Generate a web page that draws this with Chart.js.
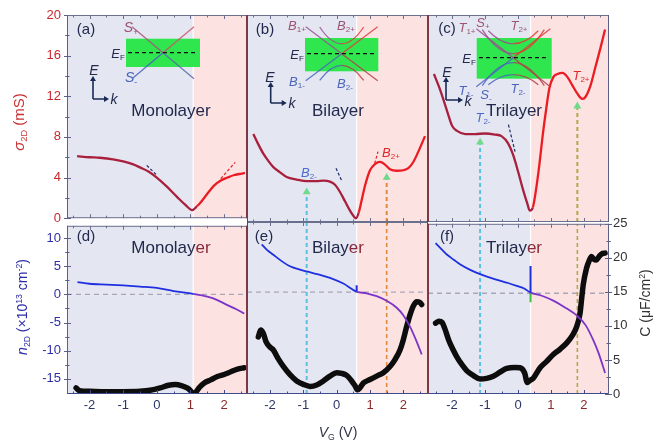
<!DOCTYPE html>
<html><head><meta charset="utf-8">
<script src="https://cdn.jsdelivr.net/npm/chart.js@4.4.1/dist/chart.umd.min.js"></script>
<style>
html,body{margin:0;padding:0;background:#fff;}
body{width:667px;height:443px;position:relative;overflow:hidden;font-family:'Liberation Sans',Arial,Helvetica,sans-serif;}
canvas.cv{position:absolute;}
.lb{position:absolute;white-space:nowrap;line-height:1;transform:translate(-50%,-50%);}
.lb sub{font-size:0.62em;vertical-align:-0.35em;line-height:0;}
.lb sup{font-size:0.62em;vertical-align:0.6em;line-height:0;}
.lb.rot{transform:translate(-50%,-50%) rotate(-90deg);}
svg#ins{position:absolute;left:0;top:0;}
</style></head>
<body>
<canvas id="ca" class="cv"></canvas>
<canvas id="cb" class="cv"></canvas>
<canvas id="cc" class="cv"></canvas>
<canvas id="cd" class="cv"></canvas>
<canvas id="ce" class="cv"></canvas>
<canvas id="cf" class="cv"></canvas>
<svg id="ins" width="667" height="443"></svg>
<div id="labels"></div>
<script>
// ---------------- data ----------------
const vTicks = [-2, -1, 0, 1, 2];
const vMinorTicks = [-2.5, -1.5, -0.5, 0.5, 1.5, 2.5];
const sigmaTicks = [0, 4, 8, 12, 16, 20];
const sigmaMinor = [2, 6, 10, 14, 18];
const nTicks = [-15, -10, -5, 0, 5, 10];
const nMinor = [-12.5, -7.5, -2.5, 2.5, 7.5];
const cTicks = [0, 5, 10, 15, 20, 25];
const cMinor = [2.5, 7.5, 12.5, 17.5, 22.5];

const layerNames = ['Monolayer', 'Bilayer', 'Trilayer'];
const neutralityV = [1.08, 0.6, 0.38];

const monoSigmaV = [-2.37,-2.0,-1.7,-1.3,-1.0,-0.7,-0.5,-0.25,0.0,0.3,0.6,0.85,1.05,1.2,1.3,1.5,1.7,1.9,2.1,2.3,2.45,2.62];
const monoSigma  = [6.1,6.0,5.95,5.8,5.6,5.3,5.0,4.6,4.0,3.1,2.1,1.3,0.8,1.2,1.55,2.4,3.2,3.7,4.0,4.25,4.35,4.45];

const biSigmaV = [-2.5,-2.35,-2.2,-2.05,-1.9,-1.7,-1.5,-1.2,-0.9,-0.6,-0.4,-0.2,-0.05,0.1,0.25,0.4,0.5,0.58,0.66,0.75,0.85,1.0,1.15,1.3,1.45,1.6,1.8,2.0,2.15,2.3,2.45,2.65];
const biSigma  = [8.5,7.5,6.6,5.9,5.3,4.8,4.35,4.1,3.95,3.95,4.0,3.9,3.6,2.9,2.0,1.1,0.6,0.35,0.9,2.1,3.5,5.0,5.6,5.8,5.55,5.1,4.95,5.0,5.2,5.8,6.8,8.3];

const triSigmaV = [-2.55,-2.4,-2.26,-2.1,-2.0,-1.85,-1.6,-1.3,-1.0,-0.7,-0.5,-0.3,-0.15,0.0,0.15,0.28,0.36,0.45,0.55,0.65,0.75,0.85,0.95,1.07,1.2,1.35,1.5,1.65,1.8,1.95,2.05,2.2,2.35,2.5,2.64];
const triSigma  = [14.3,13.1,11.8,10.2,9.3,8.8,8.5,8.5,8.55,8.45,8.3,7.6,6.5,4.9,3.15,1.8,1.1,1.4,3.2,5.6,8.4,10.8,12.9,14.0,14.3,14.4,14.0,13.2,12.4,11.9,12.1,13.2,15.0,16.8,18.6];

const monoNV = [-2.36,-2.0,-1.5,-1.0,-0.5,0.0,0.5,1.08,1.5,1.8,2.1,2.35,2.6];
const monoN  = [2.2,1.9,1.75,1.6,1.4,1.15,0.6,0.1,-0.4,-1.0,-1.9,-2.6,-3.4];

const biNV = [-2.25,-2.1,-1.9,-1.65,-1.4,-1.15,-0.9,-0.55,-0.2,0.2,0.6,0.9,1.2,1.5,1.8,2.0,2.2,2.4,2.55];
const biN  = [8.3,7.4,6.5,5.4,4.5,4.0,3.6,3.1,2.5,1.5,0.1,-0.2,-0.7,-1.5,-2.7,-4.0,-6.0,-8.6,-10.8];

const triNV = [-2.5,-2.3,-2.16,-1.95,-1.76,-1.45,-1.15,-0.85,-0.55,-0.3,-0.04,0.2,0.38,0.7,1.07,1.4,1.78,2.05,2.28,2.45,2.64];
const triN  = [8.8,7.6,6.8,5.9,5.1,4.1,3.35,2.75,2.2,1.8,1.3,0.8,0.1,-0.4,-1.3,-2.4,-3.9,-5.6,-8.2,-10.6,-14.0];

const monoCV = [-2.4,-2.3,-2.0,-1.5,-1.0,-0.5,-0.2,0.1,0.35,0.55,0.75,0.9,1.0,1.05,1.1,1.17,1.25,1.4,1.6,1.8,2.0,2.2,2.4,2.6];
const monoC  = [0.9,0.5,0.4,0.35,0.35,0.4,0.55,0.9,1.3,1.4,1.2,0.9,0.5,0.2,null,0.3,0.9,1.6,2.1,2.6,2.9,3.3,3.7,3.9];

const biCV = [-2.35,-2.28,-2.2,-2.12,-2.0,-1.9,-1.75,-1.6,-1.4,-1.2,-1.0,-0.8,-0.6,-0.4,-0.2,0.0,0.15,0.3,0.45,0.55,0.63,0.7,0.8,1.0,1.2,1.4,1.6,1.75,1.9,2.0,2.1,2.2,2.3,2.4,2.5,2.55];
const biC  = [8.3,9.3,8.8,7.6,6.8,6.4,5.1,4.0,2.8,1.9,1.4,1.1,1.3,1.9,2.6,3.1,3.0,2.7,1.9,1.2,0.6,0.9,1.6,2.1,2.6,3.1,4.0,5.0,6.4,7.9,9.8,11.5,12.8,13.4,13.3,13.0];

const triCV = [-2.5,-2.4,-2.3,-2.22,-2.1,-1.98,-1.86,-1.7,-1.55,-1.35,-1.15,-0.95,-0.75,-0.55,-0.34,-0.1,0.06,0.2,0.28,0.36,0.46,0.67,0.87,1.07,1.28,1.48,1.65,1.78,1.88,1.93,1.98,2.08,2.16,2.23,2.3,2.38,2.46,2.54,2.64];
const triC  = [10.4,10.7,10.5,9.6,7.9,6.6,5.5,4.3,3.4,2.7,2.2,2.3,2.6,3.2,3.75,3.9,3.85,3.1,1.7,2.0,2.3,3.85,4.8,5.8,6.6,7.5,8.6,9.9,11.8,14.0,16.1,18.5,19.6,20.2,19.8,19.7,20.2,20.6,20.7];

// vertical markers (gate voltages of the B2-/B2+ and T2-/T2+ features) and arrow heads
const biMarkV = [-0.9, 1.5];
const biArrowSigma = [2.9, 4.3];
const triMarkV = [-1.15, 1.8];
const triArrowSigma = [7.7, 11.2];

// short tangent guides [V1, V2, sigma1, sigma2]
const monoTangents = [[-0.3, -0.02, 5.2, 4.3], [1.9, 2.33, 3.9, 5.5]];
const biTangents = [[-0.02, 0.15, 5.2, 4.0], [1.14, 1.24, 5.65, 6.8]];
const triTangents = [[-0.29, -0.09, 9.4, 6.8]];

// Dirac-point marker ticks on n2D [V, nFrom, nTo]
const biDiracMark = [[0.6, 0.1, 1.2]];
const triDiracMark = [[0.38, 0.1, 4.8]];
const triDiracMarkGreen = [[0.38, 0.1, -1.6]];

// ---------------- styling / layout ----------------
Chart.defaults.font.family = "'Liberation Sans', Arial, Helvetica, sans-serif";
Chart.defaults.font.size = 13;
const RED = '#ec1c24', DRED = '#a8203e', NBLUE = '#1f2fe0', NPURP = '#7b34c8';
const CYAN = '#5cc0e0', ORANGE = '#e08a40', OLIVE = '#aeaa4a', AGREEN = '#6fd98c';
const NEG = '#2c3566', POS = '#8a2a2a';

const COLS = [{l:67, r:247, xmin:-2.67, xmax:2.68}, {l:247, r:428, xmin:-2.69, xmax:2.74}, {l:428, r:609, xmin:-2.73, xmax:2.76}];
const ROWS = [{t:15, b:222}, {t:222, b:394}];
const N_RANGE = [-17.7, 12.2], S_RANGE = [0, 20], C_RANGE = [0, 25];

const TICKSPEC = {
  sigma: {scale:'y', major: sigmaTicks, minor: sigmaMinor},
  n: {scale:'y', major: nTicks, minor: nMinor},
  c: {scale:'y2', major: cTicks, minor: cMinor}
};

const pts = (xs, ys) => xs.map((x, i) => ({x, y: ys[i]}));

const decor = {
  id: 'decor',
  beforeDatasetsDraw(chart, args, o) {
    const {ctx, chartArea: a} = chart;
    const xb = chart.scales.x.getPixelForValue(o.bound);
    ctx.save();
    ctx.fillStyle = '#e4e7f1'; ctx.fillRect(a.left, a.top, xb - a.left, a.bottom - a.top);
    ctx.fillStyle = '#fde2e2'; ctx.fillRect(xb, a.top, a.right - xb, a.bottom - a.top);
    ctx.fillStyle = '#ffffff'; ctx.fillRect(xb - 0.6, a.top, 1.2, a.bottom - a.top);
    ctx.restore();
  },
  afterDraw(chart, args, o) {
    const {ctx, chartArea: a, scales} = chart;
    ctx.save();
    ctx.lineWidth = 1;
    const seg = (x1, y1, x2, y2, c) => { ctx.strokeStyle = c; ctx.beginPath(); ctx.moveTo(x1, y1); ctx.lineTo(x2, y2); ctx.stroke(); };
    const xs = scales.x;
    vTicks.forEach(v => { const p = Math.round(xs.getPixelForValue(v)) + 0.5; seg(p, a.top, p, a.top + 4, o.hColor); seg(p, a.bottom, p, a.bottom - 4, o.bColor); });
    vMinorTicks.forEach(v => { const p = Math.round(xs.getPixelForValue(v)) + 0.5; seg(p, a.top, p, a.top + 2.5, o.hColor); seg(p, a.bottom, p, a.bottom - 2.5, o.bColor); });
    const yt = (side, key, out, col) => {
      if (!key) return;
      const sp = TICKSPEC[key], s = scales[sp.scale];
      const x0 = side === 'l' ? a.left : a.right, dir = side === 'l' ? 1 : -1;
      sp.major.forEach(v => { const p = Math.round(s.getPixelForValue(v)) + 0.5; seg(x0 - dir * out, p, x0 + dir * 4, p, col); });
      sp.minor.forEach(v => { const p = Math.round(s.getPixelForValue(v)) + 0.5; seg(x0 - dir * out * 0.6, p, x0 + dir * 2.5, p, col); });
    };
    yt('l', o.left, o.leftOut, o.lColor);
    yt('r', o.right, o.rightOut, o.rColor);
    seg(a.left, a.top + 0.5, a.right, a.top + 0.5, o.hColor);
    seg(a.left, a.bottom - 0.5, a.right, a.bottom - 0.5, o.bColor);
    seg(a.left + 0.5, a.top, a.left + 0.5, a.bottom, o.lColor);
    seg(a.right - 0.5, a.top, a.right - 0.5, a.bottom, o.rColor);
    ctx.restore();
  }
};

function curve(points, bound, cLeft, cRight, width, order) {
  return {data: points, borderColor: cRight, borderWidth: width, pointRadius: 0, pointHoverRadius: 0, fill: false,
    cubicInterpolationMode: 'monotone', order,
    segment: {borderColor: c => (c.p0.parsed.x < bound - 0.01 ? cLeft : cRight)}};
}
function seg2(x1, y1, x2, y2, color, width, dash, axis, order) {
  return {data: [{x: x1, y: y1}, {x: x2, y: y2}], borderColor: color, borderWidth: width, borderDash: dash,
    pointRadius: 0, pointHoverRadius: 0, fill: false, yAxisID: axis, order};
}
function arrowHead(x, y, order) {
  return {data: [{x, y}], showLine: false, pointStyle: 'triangle', pointRadius: 4.6, pointHoverRadius: 4.6, pointBackgroundColor: AGREEN,
    pointBorderColor: AGREEN, pointBorderWidth: 0, order};
}

function makeChart(id, ci, ri, p) {
  const C = COLS[ci], R = ROWS[ri], m = p.margin;
  const cv = document.getElementById(id);
  const W = C.r - C.l + m.l + m.r, H = R.b - R.t + m.t + m.b;
  cv.width = W; cv.height = H;
  cv.style.width = W + 'px'; cv.style.height = H + 'px';
  cv.style.left = (C.l - m.l) + 'px'; cv.style.top = (R.t - m.t) + 'px';
  const yRange = ri === 0 ? S_RANGE : N_RANGE;
  const scales = {
    x: {type: 'linear', min: C.xmin, max: C.xmax, display: !!p.showX,
      afterFit: s => { if (p.showX) s.height = m.b; },
      afterBuildTicks: s => { s.ticks = vTicks.map(v => ({value: v})); },
      grid: {display: false, drawTicks: false}, border: {display: false},
      ticks: {padding: 4, autoSkip: false, maxRotation: 0, font: {size: 13},
        color: c => (c.tick && c.tick.value > 0 ? POS : NEG)}},
    y: {type: 'linear', position: 'left', min: yRange[0], max: yRange[1], display: !!p.showY,
      afterFit: s => { if (p.showY) s.width = m.l; },
      afterBuildTicks: s => { s.ticks = (ri === 0 ? sigmaTicks : nTicks).map(v => ({value: v})); },
      grid: {display: false, drawTicks: false}, border: {display: false},
      ticks: {padding: 6, font: {size: 13}, color: ri === 0 ? '#c8282d' : '#2e2ea6'}}
  };
  if (ri === 1) {
    scales.y2 = {type: 'linear', position: 'right', min: C_RANGE[0], max: C_RANGE[1], display: !!p.showC,
      afterFit: s => { if (p.showC) s.width = m.r; },
      afterBuildTicks: s => { s.ticks = cTicks.map(v => ({value: v})); },
      grid: {display: false, drawTicks: false}, border: {display: false},
      ticks: {padding: 4, font: {size: 13}, color: '#333'}};
  }
  return new Chart(cv, {
    type: 'line',
    data: {datasets: p.datasets},
    options: {
      responsive: false, animation: false, devicePixelRatio: 1, events: [],
      layout: {autoPadding: false, padding: {left: p.showY ? 0 : m.l, right: p.showC ? 0 : m.r, top: m.t, bottom: p.showX ? 0 : m.b}},
      scales,
      plugins: {legend: {display: false}, tooltip: {enabled: false},
        decor: Object.assign({bound: neutralityV[ci], hColor: '#6a6f8e', bColor: ri === 1 ? '#3e4c8e' : '#6a6f8e',
          lColor: ci === 0 ? '#5a6088' : '#7b3845', rColor: ci === 2 ? '#5a6088' : '#7b3845',
          left: null, right: null, leftOut: 0, rightOut: 0}, p.decor)}
    },
    plugins: [decor]
  });
}

// ---------- top row: sigma ----------
function sigmaPanel(id, ci, V, S, tangents, markV, arrowS) {
  const b = neutralityV[ci];
  const ds = [curve(pts(V, S), b, DRED, RED, 2.3, 1)];
  tangents.forEach(t => {
    const col = t[0] < b ? '#1c2a66' : '#e02020';
    ds.push(seg2(t[0], t[2], t[1], t[3], col, 1.2, [3, 2], 'y', 2));
  });
  if (markV) markV.forEach((v, i) => {
    const col = i === 0 ? CYAN : (ci === 2 ? OLIVE : ORANGE);
    ds.push(seg2(v, 0, v, arrowS[i], col, 2, [4, 3], 'y', 5));
    ds.push(arrowHead(v, arrowS[i], 4));
  });
  const m = {l: ci === 0 ? 67 : 6, t: 15, r: ci === 2 ? 10 : 6, b: 10};
  return makeChart(id, ci, 0, {margin: m, showY: ci === 0, datasets: ds,
    decor: ci === 0 ? {left: 'sigma', leftOut: 3} : {}});
}
sigmaPanel('ca', 0, monoSigmaV, monoSigma, monoTangents, null, null);
sigmaPanel('cb', 1, biSigmaV, biSigma, biTangents, biMarkV, biArrowSigma);
sigmaPanel('cc', 2, triSigmaV, triSigma, triTangents, triMarkV, triArrowSigma);

// ---------- bottom row: n2D and C ----------
function nPanel(id, ci, NV, N, CV, CC, markV, marks, marksGreen) {
  const b = neutralityV[ci], C = COLS[ci];
  const ds = [];
  ds.push(Object.assign(curve(pts(NV, N), b, NBLUE, NPURP, 1.8, 1), {yAxisID: 'y'}));
  (marks || []).forEach(mk => ds.push(seg2(mk[0], mk[1], mk[0], mk[2], NBLUE, 2, [], 'y', 2)));
  (marksGreen || []).forEach(mk => ds.push(seg2(mk[0], mk[1], mk[0], mk[2], '#3cc03c', 2, [], 'y', 2)));
  ds.push({data: pts(CV, CC), yAxisID: 'y2', borderColor: '#0d0d0d', borderWidth: 5.5, pointRadius: 0, pointHoverRadius: 0,
    borderCapStyle: 'round', borderJoinStyle: 'round', fill: false, cubicInterpolationMode: 'monotone', spanGaps: false, order: 3});
  ds.push(seg2(C.xmin, 0, C.xmax, 0, '#aaa6ba', 1.3, [5, 4], 'y', 8));
  if (markV) markV.forEach((v, i) => {
    const col = i === 0 ? CYAN : (ci === 2 ? OLIVE : ORANGE);
    ds.push(seg2(v, N_RANGE[0], v, N_RANGE[1], col, i === 0 ? 2 : 1.6, [4, 3], 'y', 6));
  });
  const m = {l: ci === 0 ? 67 : 6, t: 10, r: ci === 2 ? 40 : 6, b: 22};
  return makeChart(id, ci, 1, {margin: m, showX: true, showY: ci === 0, showC: ci === 2, datasets: ds,
    decor: Object.assign({}, ci === 0 ? {left: 'n', leftOut: 3} : {}, ci === 2 ? {right: 'c', rightOut: 3} : {})});
}
nPanel('cd', 0, monoNV, monoN, monoCV, monoC, null, null, null);
nPanel('ce', 1, biNV, biN, biCV, biC, biMarkV, biDiracMark, null);
nPanel('cf', 2, triNV, triN, triCV, triC, triMarkV, triDiracMark, triDiracMarkGreen);

// ---------------- inset band schematics ----------------
const NS = 'http://www.w3.org/2000/svg';
const svg = document.getElementById('ins');
function el(tag, at) { const e = document.createElementNS(NS, tag); for (const k in at) e.setAttribute(k, at[k]); svg.appendChild(e); return e; }
const insetSpecs = [
  {cx: 163, cy: 52.7, rect: [126, 38.7, 74, 28.3], ef: [128, 198], bands: [{w: 31, h: 26, vu: 0, vd: 0}],
   col: ['#a8507e', '#d0506c', '#4a5ec0', '#5a68a8']},
  {cx: 341.7, cy: 53.7, rect: [305, 38, 73.3, 33.3], ef: [307, 376], bands: [{w: 36, h: 27, vu: 0, vd: 0}, {w: 22, h: 26.7, vu: 10, vd: 11.6}],
   col: ['#9a4f90', '#e03a3a', '#4a64c0', '#b0404a']},
  {cx: 513.3, cy: 57.7, rect: [476.7, 38, 75, 40.7], ef: [479, 549], bands: [{w: 37, h: 29, vu: 0, vd: 0}, {w: 31, h: 28, vu: 4, vd: 5}, {w: 25, h: 27, vu: 14, vd: 17}],
   col: ['#9a4f90', '#e03a3a', '#4a64c0', '#b0404a']}
];
insetSpecs.forEach(s => {
  el('rect', {x: s.rect[0], y: s.rect[1], width: s.rect[2], height: s.rect[3], fill: '#2fe64e'});
  s.bands.forEach(b => {
    [[-1, -1, b.vu, 0], [1, -1, b.vu, 1], [-1, 1, b.vd, 2], [1, 1, b.vd, 3]].forEach(([sx, sy, v, ci]) => {
      const x0 = s.cx + sx * b.w, y0 = s.cy + sy * b.h, yv = s.cy + sy * v;
      const d = v === 0 ? `M${x0},${y0} L${s.cx},${yv}` : `M${x0},${y0} Q${s.cx + sx * b.w / 2},${yv} ${s.cx},${yv}`;
      el('path', {d, stroke: s.col[ci], 'stroke-width': 1.3, fill: 'none', opacity: 0.85});
    });
  });
  el('line', {x1: s.ef[0], y1: s.cy, x2: s.ef[1], y2: s.cy, stroke: '#111', 'stroke-width': 1.2, 'stroke-dasharray': '4 3'});
});
[[93, 99, 22, 15], [270.7, 103, 20, 15], [446, 100, 22, 16]].forEach(([x, y, hUp, wR]) => {
  el('path', {d: `M${x},${y} V${y - hUp + 3} M${x},${y} H${x + wR - 3}`, stroke: '#1a2a55', 'stroke-width': 1.6, fill: 'none'});
  el('polygon', {points: `${x - 3},${y - hUp + 4} ${x + 3},${y - hUp + 4} ${x},${y - hUp - 1}`, fill: '#1a2a55'});
  el('polygon', {points: `${x + wR - 4},${y - 3} ${x + wR - 4},${y + 3} ${x + wR + 1},${y}`, fill: '#1a2a55'});
});

// ---------------- text labels ----------------
const NAVY = '#22294d', PL = '#9c5472', BL = '#4c64bc';
const er = '<span style="color:#8a2a3a">er</span>';
const labelList = [
  [86, 28, 15, NAVY, '(a)'], [265, 28, 15, NAVY, '(b)'], [447, 27, 15, NAVY, '(c)'],
  [86, 235, 15, NAVY, '(d)'], [264, 235, 15, NAVY, '(e)'], [447, 235, 15, NAVY, '(f)'],
  [171, 110, 17, NAVY, layerNames[0]], [338, 110, 17, NAVY, layerNames[1]], [514, 110, 17, NAVY, layerNames[2]],
  [171, 247, 17, NAVY, layerNames[0].slice(0, -2) + er], [338, 247, 17, NAVY, layerNames[1].slice(0, -2) + er], [514, 247, 17, NAVY, layerNames[2].slice(0, -2) + er],
  [131, 27, 14, PL, '<i>S</i><sub>+</sub>'], [131, 77, 14, BL, '<i>S</i><sub>-</sub>'], [118, 53, 13, NAVY, '<i>E</i><sub>F</sub>'],
  [94, 70, 14, NAVY, '<i>E</i>'], [114, 99, 14, NAVY, '<i>k</i>'],
  [297, 25, 13, PL, '<i>B</i><sub>1+</sub>'], [346, 25, 13, PL, '<i>B</i><sub>2+</sub>'],
  [297, 81, 13, BL, '<i>B</i><sub>1-</sub>'], [345, 83, 13, BL, '<i>B</i><sub>2-</sub>'],
  [297, 54, 13, NAVY, '<i>E</i><sub>F</sub>'], [270, 77, 14, NAVY, '<i>E</i>'], [292, 103, 14, NAVY, '<i>k</i>'],
  [309, 172, 13, '#4a6ad0', '<i>B</i><sub>2-</sub>'], [391, 152, 13, '#e02828', '<i>B</i><sub>2+</sub>'],
  [467, 27, 13, PL, '<i>T</i><sub>1+</sub>'], [483, 22, 13, PL, '<i>S</i><sub>+</sub>'], [519, 25, 13, PL, '<i>T</i><sub>2+</sub>'],
  [466, 90, 13, BL, '<i>T</i><sub>1-</sub>'], [486, 94, 13, BL, '<i>S</i><sub>-</sub>'], [518, 88, 13, BL, '<i>T</i><sub>2-</sub>'],
  [469, 58, 13, NAVY, '<i>E</i><sub>F</sub>'], [447, 72, 14, NAVY, '<i>E</i>'], [468, 101, 14, NAVY, '<i>k</i>'],
  [483, 117, 13, '#4a6ad0', '<i>T</i><sub>2-</sub>'], [581, 75, 13, '#e02828', '<i>T</i><sub>2+</sub>'],
  [338, 432, 14, '#30344a', '<i>V</i><sub>G</sub> (V)']
];
const host = document.getElementById('labels');
labelList.forEach(([x, y, fs, col, html]) => {
  const d = document.createElement('div');
  d.className = 'lb';
  d.style.cssText = `left:${x}px;top:${y}px;font-size:${fs}px;color:${col};`;
  d.innerHTML = html;
  host.appendChild(d);
});
[[18, 122, 15, '#c83232', '<i>σ</i><sub>2D</sub> (mS)'],
 [22, 307, 14, '#2b2ba8', '<i>n</i><sub>2D</sub> (×10<sup>13</sup> cm<sup>-2</sup>)'],
 [645, 303, 14, '#333', 'C (μF/cm<sup>2</sup>)']].forEach(([x, y, fs, col, html]) => {
  const d = document.createElement('div');
  d.className = 'lb rot';
  d.style.cssText = `left:${x}px;top:${y}px;font-size:${fs}px;color:${col};`;
  d.innerHTML = html;
  host.appendChild(d);
});
</script>
</body></html>
